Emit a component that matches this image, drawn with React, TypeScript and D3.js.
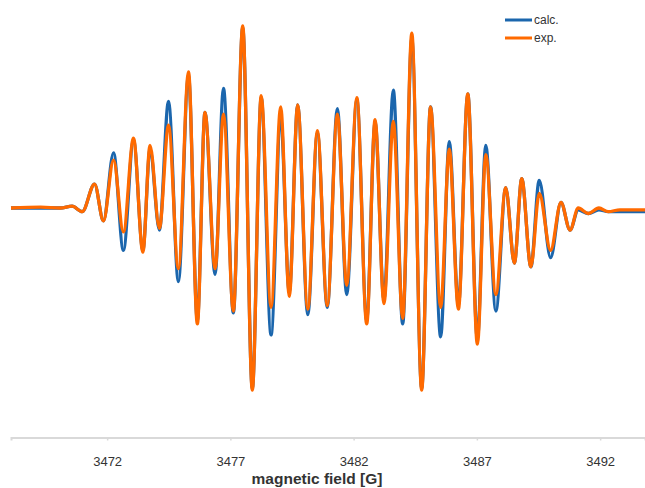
import React, { useEffect, useRef } from 'react';
import * as d3 from 'd3';

// extrema (magnetic field in G, intensity in arb. units)
const field = [
  3468.1, 3469.3, 3470.1, 3470.58, 3470.99, 3471.49, 3471.85, 3472.26, 3472.66, 3473.07,
  3473.45, 3473.74, 3474.12, 3474.49, 3474.89, 3475.3, 3475.66, 3475.97, 3476.38, 3476.72,
  3477.12, 3477.5, 3477.89, 3478.25, 3478.65, 3479.04, 3479.39, 3479.73, 3480.14, 3480.53,
  3480.93, 3481.34, 3481.72, 3482.13, 3482.53, 3482.87, 3483.23, 3483.61, 3483.99, 3484.36,
  3484.76, 3485.12, 3485.53, 3485.88, 3486.25, 3486.63, 3487.02, 3487.36, 3487.77, 3488.17,
  3488.52, 3488.82, 3489.19, 3489.53, 3489.99, 3490.41, 3490.78, 3491.11, 3491.52, 3491.95,
  3492.33, 3492.8, 3493.82,
];

const calc = [
  0, 0, 0, 0.01, -0.02, 0.13, -0.07, 0.3, -0.23, 0.37,
  -0.23, 0.32, -0.12, 0.58, -0.4, 0.72, -0.61, 0.52, -0.36, 0.65,
  -0.57, 0.98, -0.98, 0.6, -0.69, 0.49, -0.46, 0.56, -0.58, 0.41,
  -0.54, 0.54, -0.47, 0.59, -0.61, 0.47, -0.5, 0.64, -0.63, 0.92,
  -0.98, 0.55, -0.7, 0.36, -0.53, 0.62, -0.71, 0.34, -0.56, 0.11,
  -0.3, 0.16, -0.32, 0.15, -0.27, 0.03, -0.12, -0.01, -0.03, -0.01,
  -0.02, -0.02, -0.02,
];

const exp = [
  0, 0.005, 0, 0.01, -0.02, 0.13, -0.07, 0.26, -0.13, 0.38,
  -0.24, 0.34, -0.11, 0.45, -0.33, 0.74, -0.63, 0.52, -0.33, 0.51,
  -0.56, 0.99, -0.99, 0.61, -0.54, 0.55, -0.48, 0.56, -0.55, 0.42,
  -0.53, 0.51, -0.42, 0.6, -0.63, 0.48, -0.52, 0.47, -0.6, 0.95,
  -0.99, 0.55, -0.54, 0.32, -0.55, 0.62, -0.74, 0.29, -0.47, 0.11,
  -0.3, 0.16, -0.32, 0.08, -0.23, 0.03, -0.12, 0, -0.03, 0,
  -0.02, -0.01, -0.01,
];

const tickValues = [3472, 3477, 3482, 3487, 3492];
const seriesNames = ['calc.', 'exp.'];
const seriesColors = ['#1b66ad', '#ff6a00'];

const App = () => {
  const svgRef = useRef(null);

  useEffect(() => {
    if (!svgRef.current) return;
    const svg = d3.select(svgRef.current);
    svg.selectAll('*').remove();

    const width = 645;
    const height = 488;
    const axisY = 437.5;

    const x = d3.scaleLinear().domain([3468.1, 3493.82]).range([11, 645]);
    const y = d3.scaleLinear().domain([-1, 1]).range([392, 24]);

    // x axis
    const axis = d3.axisBottom(x).tickValues(tickValues).tickSize(3).tickFormat(d3.format('d'));
    const g = svg.append('g').attr('transform', `translate(0,${axisY})`).call(axis);
    g.select('.domain').attr('stroke', '#d9d9d9').attr('stroke-width', 2);
    g.selectAll('.tick line').attr('stroke', '#d9d9d9').attr('stroke-width', 1.5);
    g.selectAll('.tick text')
      .attr('fill', '#333')
      .attr('font-size', 13)
      .attr('font-family', 'Liberation Sans, Arial, sans-serif')
      .attr('dy', null)
      .attr('y', 28.5);

    svg.append('text')
      .attr('x', 317)
      .attr('y', 483.5)
      .attr('text-anchor', 'middle')
      .attr('font-family', 'Liberation Sans, Arial, sans-serif')
      .attr('font-weight', 'bold')
      .attr('font-size', 15.5)
      .attr('fill', '#333')
      .text('magnetic field [G]');

    const line = d3.line()
      .x((d) => x(d[0]))
      .y((d) => y(d[1]))
      .curve(d3.curveMonotoneX);

    [calc, exp].forEach((vals, i) => {
      svg.append('path')
        .datum(field.map((f, j) => [f, vals[j]]))
        .attr('d', line)
        .attr('fill', 'none')
        .attr('stroke', seriesColors[i])
        .attr('stroke-width', 3.3)
        .attr('stroke-linejoin', 'round');
    });

    // legend
    const legend = svg.append('g');
    seriesNames.forEach((name, i) => {
      const ly = 20 + i * 18;
      legend.append('line')
        .attr('x1', 505).attr('x2', 532)
        .attr('y1', ly).attr('y2', ly)
        .attr('stroke', seriesColors[i])
        .attr('stroke-width', 3);
      legend.append('text')
        .attr('x', 534)
        .attr('y', ly + 4)
        .attr('font-size', 12)
        .attr('font-family', 'Liberation Sans, Arial, sans-serif')
        .attr('fill', '#333')
        .text(name);
    });

    svg.attr('width', width).attr('height', height);
  }, []);

  return (
    <div>
      <svg ref={svgRef} style={{ position: 'absolute', left: 0, top: 0 }}></svg>
    </div>
  );
};

export default App;
